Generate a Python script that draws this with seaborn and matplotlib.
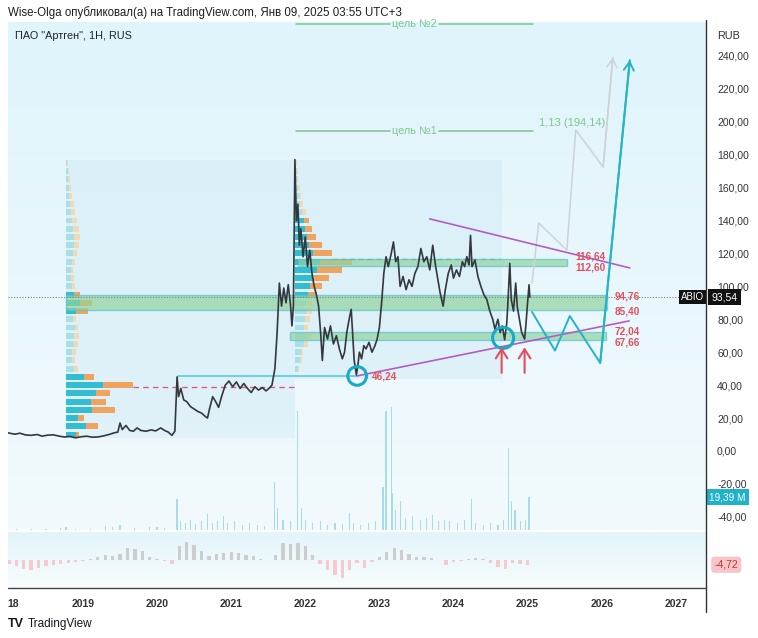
import numpy as np
import pandas as pd
import matplotlib
matplotlib.use("Agg")
import matplotlib.pyplot as plt
import seaborn as sns
from matplotlib.colors import LinearSegmentedColormap
from matplotlib.lines import Line2D
from matplotlib.patches import Rectangle

# ---------------- data ----------------
price_dates = [2017.99, 2018.08, 2018.15, 2018.22, 2018.30, 2018.38, 2018.45, 2018.52, 2018.60, 2018.68,
               2018.75, 2018.82, 2018.90, 2018.97, 2019.05, 2019.12, 2019.20, 2019.28, 2019.35, 2019.42,
               2019.47, 2019.50, 2019.53, 2019.58, 2019.63, 2019.68, 2019.73, 2019.78, 2019.85, 2019.92,
               2019.98, 2020.05, 2020.10, 2020.15, 2020.20, 2020.24, 2020.27, 2020.29, 2020.32, 2020.36,
               2020.40, 2020.45, 2020.50, 2020.55, 2020.60, 2020.65, 2020.68, 2020.71, 2020.75, 2020.79,
               2020.83, 2020.87, 2020.92, 2020.97, 2021.02, 2021.07, 2021.12, 2021.17, 2021.22, 2021.27,
               2021.32, 2021.37, 2021.42, 2021.47, 2021.51, 2021.55, 2021.59, 2021.62, 2021.65, 2021.68,
               2021.71, 2021.74, 2021.77, 2021.80, 2021.82, 2021.84, 2021.86, 2021.88, 2021.90, 2021.92,
               2021.94, 2021.97, 2022.00, 2022.03, 2022.06, 2022.09, 2022.12, 2022.15, 2022.18, 2022.21,
               2022.23, 2022.26, 2022.30, 2022.34, 2022.38, 2022.42, 2022.46, 2022.50, 2022.53, 2022.56,
               2022.60, 2022.62, 2022.64, 2022.66, 2022.69, 2022.71, 2022.73, 2022.76, 2022.79, 2022.82,
               2022.86, 2022.90, 2022.94, 2022.97, 2023.00, 2023.03, 2023.06, 2023.09, 2023.12, 2023.16,
               2023.19, 2023.22, 2023.25, 2023.28, 2023.32, 2023.36, 2023.40, 2023.44, 2023.48, 2023.52,
               2023.56, 2023.60, 2023.64, 2023.68, 2023.72, 2023.76, 2023.79, 2023.82, 2023.86, 2023.89,
               2023.93, 2023.97, 2024.00, 2024.04, 2024.08, 2024.12, 2024.15, 2024.18, 2024.21, 2024.23,
               2024.25, 2024.29, 2024.33, 2024.37, 2024.41, 2024.45, 2024.49, 2024.53, 2024.56, 2024.60,
               2024.63, 2024.66, 2024.69, 2024.72, 2024.74, 2024.76, 2024.78, 2024.81, 2024.84, 2024.86,
               2024.89, 2024.92, 2024.94, 2024.96, 2024.98, 2025.00, 2025.02, 2025.03]
price_close = [11.0, 10.2, 10.8, 9.8, 9.5, 10.0, 9.0, 9.6, 9.8, 9.0,
               8.5, 8.8, 8.0, 8.6, 9.0, 8.4, 8.5, 9.2, 10.0, 11.0,
               11.5, 17.0, 13.0, 15.5, 12.5, 12.0, 14.0, 12.5, 12.0, 12.8,
               12.2, 14.0, 12.5, 11.5, 9.5, 12.0, 45.0, 33.0, 38.0, 31.0,
               30.0, 27.0, 25.5, 24.0, 23.0, 21.0, 20.0, 26.0, 33.0, 30.0,
               26.5, 33.0, 40.0, 42.5, 39.0, 42.0, 38.0, 41.0, 38.0, 35.5,
               39.0, 37.0, 38.5, 36.5, 38.0, 40.0, 50.0, 72.0, 102.0, 88.0,
               99.0, 90.0, 101.0, 89.0, 76.0, 88.0, 177.0, 140.0, 150.0, 125.0,
               135.0, 118.0, 130.0, 112.0, 122.0, 108.0, 100.0, 95.0, 88.0, 70.0,
               55.0, 75.0, 68.0, 76.0, 65.0, 70.0, 62.0, 56.0, 60.0, 72.0,
               82.0, 86.0, 70.0, 55.0, 46.24, 52.0, 60.0, 56.0, 64.0, 62.0,
               66.0, 60.0, 64.0, 68.0, 75.0, 90.0, 108.0, 118.0, 112.0, 120.0,
               127.0, 115.0, 118.0, 100.0, 106.0, 98.0, 104.0, 100.0, 108.0, 112.0,
               123.0, 115.0, 118.0, 110.0, 125.0, 112.0, 104.0, 96.0, 88.0, 98.0,
               108.0, 113.0, 105.0, 110.0, 106.0, 115.0, 112.0, 118.0, 113.0, 131.0,
               112.0, 116.0, 106.0, 100.0, 95.0, 92.0, 85.0, 80.0, 74.0, 80.0,
               72.0, 76.0, 67.5, 78.0, 95.0, 114.0, 92.0, 85.0, 102.0, 88.0,
               80.0, 72.0, 70.0, 68.0, 78.0, 90.0, 101.0, 93.54]

vol_dates = [2018.10, 2018.30, 2018.50, 2018.70, 2018.77, 2018.90,
             2019.10, 2019.30, 2019.40, 2019.50, 2019.70, 2019.90,
             2020.00, 2020.10, 2020.27, 2020.32, 2020.38, 2020.45, 2020.52, 2020.60, 2020.68, 2020.75, 2020.82, 2020.90, 2020.95,
             2021.05, 2021.15, 2021.25, 2021.35, 2021.45, 2021.58, 2021.63, 2021.70, 2021.80, 2021.89, 2021.95,
             2022.00, 2022.10, 2022.20, 2022.30, 2022.40, 2022.50, 2022.60, 2022.65, 2022.75, 2022.85, 2022.95,
             2023.05, 2023.09, 2023.16, 2023.18, 2023.22, 2023.28, 2023.35, 2023.45, 2023.55, 2023.64, 2023.72, 2023.80, 2023.88, 2023.95,
             2024.05, 2024.15, 2024.24, 2024.30, 2024.40, 2024.50, 2024.60, 2024.68, 2024.74, 2024.78, 2024.83, 2024.90, 2024.97, 2025.02]
vol_values = [0.8, 0.6, 0.7, 1.0, 1.5, 0.7,
              0.8, 2.5, 1.8, 2.8, 1.2, 1.5,
              1.8, 1.0, 18.0, 5.0, 4.0, 6.0, 3.5, 5.0, 9.5, 4.0, 5.5, 8.0, 4.0,
              5.0, 3.0, 4.0, 3.0, 2.5, 28.0, 13.0, 6.0, 5.0, 70.0, 13.0,
              6.0, 4.0, 5.0, 3.0, 4.0, 3.5, 10.0, 4.0, 3.0, 4.0, 5.0,
              25.0, 70.0, 72.0, 22.0, 12.0, 17.0, 7.0, 8.0, 6.0, 7.0, 9.0, 5.0, 6.0, 5.0,
              4.0, 6.0, 18.0, 4.0, 3.0, 4.0, 3.0, 6.0, 48.0, 17.0, 12.0, 5.0, 6.0, 19.39]

macd_dates = [2018.0, 2018.1, 2018.2, 2018.3, 2018.4, 2018.5, 2018.6, 2018.7, 2018.8, 2018.9,
              2019.0, 2019.1, 2019.2, 2019.3, 2019.4, 2019.5, 2019.6, 2019.7, 2019.8, 2019.9,
              2020.0, 2020.1, 2020.2, 2020.3, 2020.4, 2020.5, 2020.6, 2020.7, 2020.8, 2020.9,
              2021.0, 2021.1, 2021.2, 2021.3, 2021.4, 2021.5, 2021.6, 2021.7, 2021.8, 2021.9,
              2022.0, 2022.1, 2022.2, 2022.3, 2022.4, 2022.5, 2022.6, 2022.7, 2022.8, 2022.9,
              2023.0, 2023.1, 2023.2, 2023.3, 2023.4, 2023.5, 2023.6, 2023.7, 2023.8, 2023.9,
              2024.0, 2024.1, 2024.2, 2024.3, 2024.4, 2024.5, 2024.6, 2024.7, 2024.8, 2024.9,
              2025.0]
macd_values = [-4, -6, -9, -10, -8, -6, -5, -4, -3, -2,
               -1, 1, 3, 5, 4, 6, 12, 11, 9, 3,
               1, -1, -4, 14, 18, 15, 9, 4, 6, 7,
               8, 7, 5, 4, 1, 0, 5, 17, 16, 17,
               14, 5, -4, -10, -15, -18, -10, -3, -8, -2,
               3, 8, 12, 10, 6, 3, 3, 2, 0, -5,
               -2, -1, 1, 2, 1, -3, -7, -9, -3, -4,
               -4.72]

prof1_levels = [10, 15, 20, 25, 30, 35, 40, 45, 50, 55, 60, 65, 70, 75, 80, 85, 90,
                95, 100, 105, 110, 115, 120, 125, 130, 135, 140, 145, 150, 155, 160, 165, 170, 175]
prof1_up = [10, 20, 12, 26, 25, 30, 37, 18, 8, 6, 6, 8, 8, 9, 7, 10, 14,
            8, 6, 5, 5, 6, 7, 8, 8, 7, 6, 5, 4, 3, 3, 2, 2, 1]
prof1_down = [3, 12, 6, 23, 15, 14, 30, 10, 4, 3, 4, 4, 5, 3, 3, 12, 12,
              6, 3, 3, 2, 3, 4, 5, 6, 6, 5, 4, 4, 3, 2, 2, 1, 1]
prof2_levels = [50, 55, 60, 65, 70, 75, 80, 85, 90, 95, 100, 105, 110, 115, 120, 125,
                130, 135, 140, 145, 150, 155, 160, 165, 170, 175]
prof2_up = [3, 5, 6, 9, 12, 9, 10, 11, 11, 13, 15, 18, 22, 25, 18, 14,
            12, 10, 9, 7, 5, 4, 3, 2, 2, 1]
prof2_down = [1, 2, 2, 4, 5, 4, 5, 6, 6, 9, 12, 16, 25, 32, 19, 13,
              9, 7, 5, 4, 3, 2, 2, 1, 1, 1]

zone_low = [112.60, 85.40, 67.66]
zone_high = [116.64, 94.76, 72.04]
zone_start = [2021.90, 2018.77, 2021.79]
zone_end = [2025.53, 2026.07, 2026.06]

proj_dates = [2025.06, 2025.37, 2025.57, 2025.98, 2026.38]
proj_prices = [84.5, 61.0, 82.0, 53.5, 237.5]
alt_dates = [2025.06, 2025.15, 2025.53, 2025.65, 2026.02, 2026.15]
alt_prices = [102.0, 138.5, 122.0, 195.0, 172.5, 239.0]

trend_up_dates = [2023.68, 2026.38]
trend_up_prices = [141.0, 111.2]
trend_lo_dates = [2022.70, 2026.37]
trend_lo_prices = [45.6, 79.0]

target_prices = [194.14, 259.4]
target_labels = ["цель №1", "цель №2"]

circle_dates = [2022.70, 2024.67]
circle_prices = [45.6, 68.7]
arrow_dates = [2024.65, 2024.96]

last_price = 93.54
last_volume = 19.39
last_macd = -4.72

year_ticks = [2018.055, 2019, 2020, 2021, 2022, 2023, 2024, 2025, 2026, 2027]
year_labels = ["18", "2019", "2020", "2021", "2022", "2023", "2024", "2025", "2026", "2027"]
price_ticks = [-40, -20, 0, 20, 40, 60, 80, 100, 120, 140, 160, 180, 200, 220, 240]

# ---------------- style ----------------
sns.set_theme(style="white")
plt.rcParams["font.family"] = ["Liberation Sans", "DejaVu Sans"]

W, H = 758, 638
fig = plt.figure(figsize=(W / 100, H / 100), dpi=100)
fig.patch.set_facecolor("white")

def fx(px):
    return px / W

def fy(py):
    return 1 - py / H

main_pos = [fx(8), fy(530), fx(698), 508 / H]
macd_pos = [fx(8), fy(588), fx(698), 56 / H]

axv = fig.add_axes(main_pos)
ax = fig.add_axes(main_pos, sharex=axv)
axm = fig.add_axes(macd_pos, sharex=axv)
ax.patch.set_visible(False)

grad = LinearSegmentedColormap.from_list("bg", ["#dff4fb", "#f2fafd"])
axv.imshow(np.linspace(0, 1, 200).reshape(-1, 1), cmap=grad, aspect="auto",
           extent=[0, 1, 0, 1], transform=axv.transAxes, zorder=0)
gradm = LinearSegmentedColormap.from_list("bgm", ["#e3f5fa", "#f7fcfd"])
axm.imshow(np.linspace(0, 1, 200).reshape(-1, 1), cmap=gradm, aspect="auto",
           extent=[0, 1, 0, 1], transform=axm.transAxes, zorder=0)

XMIN, XMAX = 2017.988, 2027.408
PX_PER_YEAR = 74.1

# volume
axv.bar(vol_dates, vol_values, width=0.016, color="#a6dce6", linewidth=0, zorder=2)
axv.set_ylim(0, 298.5)

# profile background boxes
ax.add_patch(Rectangle((2018.77, 8), 2021.86 - 2018.77, 169, facecolor="#cfe9f5",
                       alpha=0.45, linewidth=0, zorder=1))
ax.add_patch(Rectangle((2021.86, 44), 2024.65 - 2021.86, 133, facecolor="#cfe9f5",
                       alpha=0.45, linewidth=0, zorder=1))

def draw_profile(start, levels, up, down, strong):
    up_w = [u / PX_PER_YEAR for u in up]
    dn_w = [d / PX_PER_YEAR for d in down]
    cu = ["#33bdd2" if s else "#a8e0ea" for s in strong]
    cd = ["#f0a35e" if s else "#f3d8b2" for s in strong]
    ax.barh(levels, up_w, left=start, height=3.6, color=cu, linewidth=0, zorder=3)
    ax.barh(levels, dn_w, left=[start + w for w in up_w], height=3.6, color=cd,
            linewidth=0, zorder=3)

draw_profile(2018.77, prof1_levels, prof1_up, prof1_down,
             [lv <= 47 or 83 <= lv <= 95 for lv in prof1_levels])
draw_profile(2021.86, prof2_levels, prof2_up, prof2_down,
             [95 <= lv <= 140 for lv in prof2_levels])

# POC lines
ax.plot([2019.67, 2021.86], [38.9, 38.9], color="#e0587a", lw=1.0, ls=(0, (4, 3)), zorder=4)
ax.plot([2022.36, 2024.63], [116.6, 116.6], color="#8a7f76", lw=0.9, ls=(0, (4, 3)), zorder=4)

# zones
for lo, hi, s, e in zip(zone_low, zone_high, zone_start, zone_end):
    ax.add_patch(Rectangle((s, lo), e - s, hi - lo, facecolor="#92d39e", alpha=0.7,
                           edgecolor="#55c4d2", linewidth=1.0, zorder=5))

# support line at 46
ax.plot([2020.28, 2022.70], [45.6, 45.6], color="#5ccad8", lw=1.2, zorder=5)

# last price dotted
ax.axhline(last_price, color="#7d8186", lw=0.8, ls=(0, (1, 1.5)), zorder=6)

# price line
sns.lineplot(x=price_dates, y=price_close, ax=ax, color="#33383d", lw=1.2,
             sort=False, estimator=None, zorder=8)

# trend lines
ax.plot(trend_up_dates, trend_up_prices, color="#b45cc4", lw=1.2, zorder=7)
ax.plot(trend_lo_dates, trend_lo_prices, color="#b45cc4", lw=1.2, zorder=7)

# projections
sns.lineplot(x=alt_dates, y=alt_prices, ax=ax, color="#ccd3d7", lw=1.1, sort=False,
             estimator=None, zorder=6)
sns.lineplot(x=proj_dates, y=proj_prices, ax=ax, color="#25b3c8", lw=1.4, sort=False,
             estimator=None, zorder=7)
ax.annotate("", xy=(alt_dates[-1], alt_prices[-1]), xytext=(alt_dates[-2], alt_prices[-2]),
            arrowprops=dict(arrowstyle="->,head_length=0.5,head_width=0.3", color="#ccd3d7",
                            lw=1.1, shrinkA=0, shrinkB=0), zorder=6)
ax.annotate("", xy=(proj_dates[-1], proj_prices[-1]), xytext=(proj_dates[-2], proj_prices[-2]),
            arrowprops=dict(arrowstyle="->,head_length=0.5,head_width=0.3", color="#25b3c8",
                            lw=1.4, shrinkA=0, shrinkB=0), zorder=7)

# targets
for tp, tl in zip(target_prices, target_labels):
    ax.plot([2021.87, 2023.14], [tp, tp], color="#7cc68a", lw=1.1, zorder=6)
    ax.plot([2023.80, 2025.07], [tp, tp], color="#7cc68a", lw=1.1, zorder=6)
    ax.text(2023.47, tp, tl, color="#7cc68a", fontsize=7.8, ha="center", va="center", zorder=6)
ax.text(2025.60, 199.5, "1,13 (194,14)", color="#7cc68a", fontsize=8, ha="center",
        va="center", zorder=6)

# circles
ax.scatter(circle_dates, circle_prices, s=[180, 230], facecolors="none",
           edgecolors="#17a9c6", linewidths=2.2, zorder=9)

# arrows
for ad in arrow_dates:
    ax.annotate("", xy=(ad, 63), xytext=(ad, 47.5),
                arrowprops=dict(arrowstyle="->,head_length=0.55,head_width=0.35",
                                color="#e44d5c", lw=1.5, shrinkA=0, shrinkB=0), zorder=9)

# red labels
red = "#e0505f"
lab_kw = dict(color=red, fontsize=7.2, fontweight="bold", va="center", zorder=9)
ax.text(2022.90, 45.0, "46,24", **lab_kw)
ax.text(2025.65, 118.0, "116,64", **lab_kw)
ax.text(2025.65, 111.2, "112,60", **lab_kw)
ax.text(2026.17, 94.0, "94,76", **lab_kw)
ax.text(2026.17, 84.6, "85,40", **lab_kw)
ax.text(2026.17, 72.4, "72,04", **lab_kw)
ax.text(2026.17, 65.9, "67,66", **lab_kw)

# MACD histogram
mcol = ["#cdcdcd" if v >= 0 else "#f6c9ce" for v in macd_values]
axm.bar(macd_dates, macd_values, width=0.045, color=mcol, linewidth=0, zorder=2)
axm.set_ylim(-28, 28)

# limits & ticks
ax.set_xlim(XMIN, XMAX)
ax.set_ylim(-48, 260.6)
for a in (ax, axv, axm):
    for s in a.spines.values():
        s.set_visible(False)
axv.set_yticks([])
axv.tick_params(axis="x", bottom=False, labelbottom=False)
ax.tick_params(axis="x", bottom=False, labelbottom=False)
ax.yaxis.tick_right()
ax.set_yticks(price_ticks)
ax.set_yticklabels([f"{v:.2f}".replace(".", ",") for v in price_ticks])
ax.tick_params(axis="y", length=0, pad=8, labelsize=7.5, labelcolor="#333333")
axm.set_yticks([])
axm.set_xticks(year_ticks)
axm.set_xticklabels(year_labels)
axm.tick_params(axis="x", length=0, pad=8, labelsize=7.5, labelcolor="#333333")
for lbl in axm.get_xticklabels():
    lbl.set_fontweight("bold")
ax.set_xlabel("")
ax.set_ylabel("")
axv.set_ylabel("")

# right-side value boxes
ax.annotate("ABIO", xy=(0.998, last_price), xycoords=("axes fraction", "data"),
            ha="right", va="center", fontsize=7, color="white", annotation_clip=False,
            bbox=dict(boxstyle="square,pad=0.25", fc="#111111", ec="none"), zorder=12)
ax.annotate("93,54", xy=(1.008, last_price), xycoords=("axes fraction", "data"),
            ha="left", va="center", fontsize=7.5, color="white", annotation_clip=False,
            bbox=dict(boxstyle="square,pad=0.3", fc="#111111", ec="none"), zorder=12)
axv.annotate("19,39 M", xy=(1.005, last_volume), xycoords=("axes fraction", "data"),
             ha="left", va="center", fontsize=7.2, color="white", annotation_clip=False,
             bbox=dict(boxstyle="square,pad=0.3", fc="#1fb2c8", ec="none"), zorder=12)
axm.annotate("-4,72", xy=(1.012, last_macd), xycoords=("axes fraction", "data"),
             ha="left", va="center", fontsize=7.5, color="#c0392b", annotation_clip=False,
             bbox=dict(boxstyle="round,pad=0.3", fc="#f7c4c9", ec="none"), zorder=12)

# frame lines
fig.add_artist(Line2D([fx(706), fx(706)], [fy(20), fy(612)], color="#333333", lw=1.0))
fig.add_artist(Line2D([fx(8), fx(706)], [fy(588), fy(588)], color="#444444", lw=1.0))

# texts
fig.text(fx(8), fy(13), "Wise-Olga опубликовал(а) на TradingView.com, Янв 09, 2025 03:55 UTC+3",
         fontsize=8.3, color="#1e1e1e", va="center", ha="left")
fig.text(fx(15), fy(36), 'ПАО "Артген", 1H, RUS', fontsize=7.8, color="#222222",
         va="center", ha="left")
fig.text(fx(729), fy(36), "RUB", fontsize=7.8, color="#333333", va="center", ha="center",
         bbox=dict(boxstyle="round,pad=0.45", fc="white", ec="none"))
fig.text(fx(8), fy(624), "TV", fontsize=9, fontweight="heavy", color="#131722",
         va="center", ha="left")
fig.text(fx(28), fy(624), "TradingView", fontsize=8.5, color="#131722", va="center", ha="left")

fig.savefig("out.png", dpi=100, facecolor="white")
